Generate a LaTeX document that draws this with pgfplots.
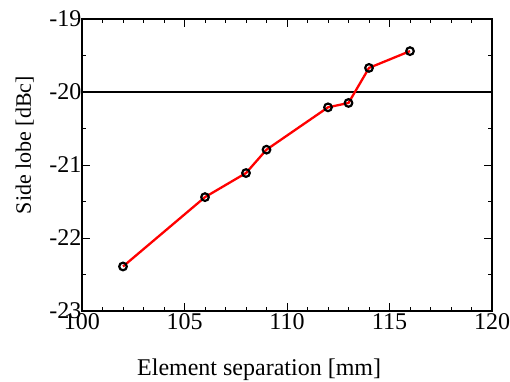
\documentclass[border=0pt]{standalone}
\usepackage{pgfplots}
\pgfplotsset{compat=1.18}
\usepackage{fontspec}
\setmainfont{Liberation Serif}
\begin{document}
\begin{tikzpicture}[x=1pt,y=1pt]
\useasboundingbox (-82,-70) rectangle (428,311);
\begin{axis}[
 at={(0,0)}, anchor=south west,
 scale only axis, width=410pt, height=292pt,
 xmin=100, xmax=120, ymin=-23, ymax=-19,
 xtick={100,105,110,115,120}, xticklabels={100,105,110,115,120},
 ytick={-23,-22,-21,-20,-19}, yticklabels={-23,-22,-21,-20,-19},
 minor xtick={101,102,103,104,106,107,108,109,111,112,113,114,116,117,118,119},
 minor ytick={-22.5,-21.5,-20.5,-19.5},
 tick align=inside, major tick length=8pt, minor tick length=4pt,
 tick style={black, line width=0.9pt},
 axis line style={black, line width=1.1pt},
 ticklabel style={font=\fontsize{24}{26}\selectfont},
 yticklabel style={xshift=3pt},
 xticklabel style={yshift=1pt},
 xlabel={Element separation [mm]},
 ylabel={Side lobe [dBc]},
 xlabel style={font=\fontsize{24}{27}\selectfont, at={([yshift=-64pt]axis description cs:0.432,0)}, anchor=base},
 ylabel style={font=\fontsize{22}{25}\selectfont, at={([xshift=-51pt]axis description cs:0,0.568)}, anchor=base},
]
\addplot[black, line width=2.2pt] coordinates {(100,-20) (120,-20)};
\addplot[red, line width=2.3pt, mark=o, mark size=3.8pt,
  mark options={black, fill=white, line width=2.2pt, solid}]
  coordinates {
  (102,-22.39) (106,-21.44) (108,-21.11) (109,-20.79)
  (112,-20.21) (113,-20.15) (114,-19.67) (116,-19.44)
  };
\end{axis}
\end{tikzpicture}
\end{document}
